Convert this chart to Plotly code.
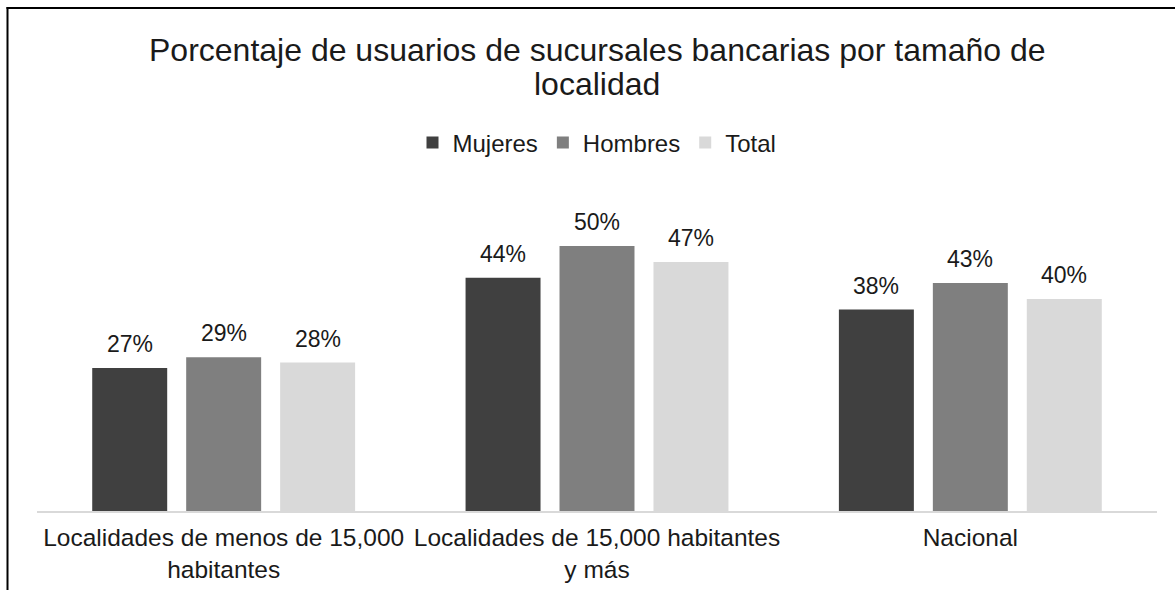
import plotly.graph_objects as go

# Data
categories = [
    "Localidades de menos de 15,000<br>habitantes",
    "Localidades de 15,000 habitantes<br>y más",
    "Nacional",
]
series_names = ["Mujeres", "Hombres", "Total"]
mujeres = [0.27, 0.44, 0.38]
hombres = [0.29, 0.50, 0.43]
total = [0.28, 0.47, 0.40]
colors = ["#404040", "#7f7f7f", "#d9d9d9"]
title_lines = ["Porcentaje de usuarios de sucursales bancarias por tamaño de", "localidad"]

W, H = 1175, 590
M_L, M_R, M_T, M_B = 37, 18, 193, 79
PW, PH = W - M_L - M_R, H - M_T - M_B
FONT = "Liberation Sans, Arial, sans-serif"
TXT = "#1a1a1a"


def px_x(p):
    return (p - M_L) / PW


def px_y(p):
    return (H - M_B - p) / PH


fig = go.Figure()
values = [mujeres, hombres, total]
for name, vals, col in zip(series_names, values, colors):
    fig.add_trace(go.Bar(name=name, x=categories, y=vals, marker_color=col,
                         marker_line_width=0))

# value labels above bars
BARGAP, GROUPGAP = 0.245, 0.202
slot_px = PW / len(categories) * (1 - BARGAP) / 3
annotations = []
for i, vals in enumerate(values):
    for cat, v in zip(categories, vals):
        annotations.append(dict(
            x=cat, y=v, xref="x", yref="y", text=f"{round(v*100)}%",
            showarrow=False, yanchor="bottom", yshift=9,
            xshift=(i - 1) * slot_px,
            font=dict(size=23, color=TXT, family=FONT)))

# two-line chart title
for line, ypx in zip(title_lines, [50, 84]):
    annotations.append(dict(
        x=0.5, y=px_y(ypx), xref="paper", yref="paper", text=line,
        showarrow=False, xanchor="center", yanchor="middle",
        font=dict(size=32, color=TXT, family=FONT)))

# chart frame (left and top edges)
shapes = [
    dict(type="line", xref="paper", yref="paper", x0=px_x(7.5), x1=px_x(7.5),
         y0=px_y(7), y1=px_y(H + 5), line=dict(color="black", width=2)),
    dict(type="line", xref="paper", yref="paper", x0=px_x(6.5), x1=px_x(W + 5),
         y0=px_y(8), y1=px_y(8), line=dict(color="black", width=2)),
]

fig.update_layout(
    width=W, height=H,
    margin=dict(l=M_L, r=M_R, t=M_T, b=M_B, autoexpand=False),
    paper_bgcolor="white", plot_bgcolor="white",
    barmode="group", bargap=BARGAP, bargroupgap=GROUPGAP,
    legend=dict(orientation="h", x=0.5, xanchor="center",
                y=px_y(143), yanchor="middle",
                font=dict(size=24, color=TXT, family=FONT),
                itemwidth=30, traceorder="normal"),
    font=dict(family=FONT, color=TXT),
    annotations=annotations,
    shapes=shapes,
    showlegend=True,
)
fig.update_xaxes(showline=True, linecolor="#d9d9d9", linewidth=2,
                 automargin=False,
                 ticks="outside", ticklen=4, tickcolor="rgba(0,0,0,0)",
                 tickfont=dict(size=24.5, color=TXT, family=FONT))
fig.update_yaxes(range=[0, 0.6], visible=False, showgrid=False, automargin=False)

fig.write_html("out.html")
